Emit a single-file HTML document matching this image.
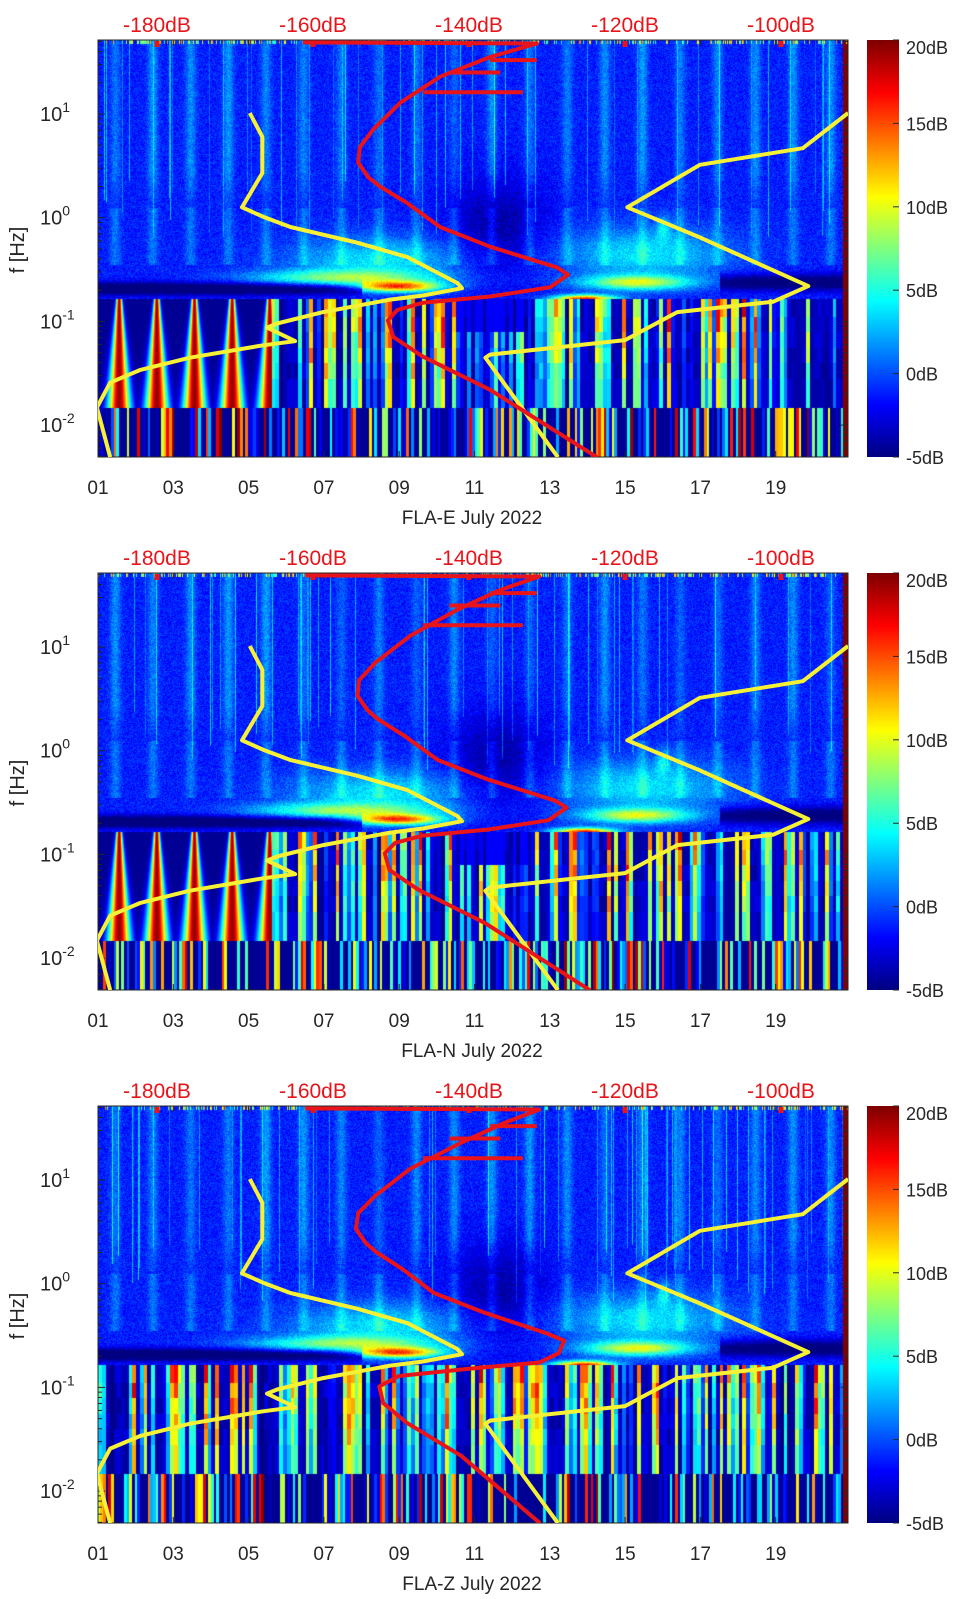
<!DOCTYPE html>
<html><head><meta charset="utf-8">
<style>
html,body{margin:0;padding:0;background:#fff;}
body{width:962px;height:1599px;position:relative;overflow:hidden;font-family:"Liberation Sans","DejaVu Sans",sans-serif;}
canvas{position:absolute;}
svg{position:absolute;left:0;top:0;}
</style></head>
<body>
<canvas id="spec0" width="750" height="417" style="left:98px;top:40px"></canvas>
<canvas id="spec1" width="750" height="417" style="left:98px;top:573px"></canvas>
<canvas id="spec2" width="750" height="417" style="left:98px;top:1106px"></canvas>
<canvas id="cb0" width="32" height="417" style="left:867px;top:40px"></canvas>
<canvas id="cb1" width="32" height="417" style="left:867px;top:573px"></canvas>
<canvas id="cb2" width="32" height="417" style="left:867px;top:1106px"></canvas>
<svg id="ov" width="962" height="1599" xmlns="http://www.w3.org/2000/svg"></svg>
<script>
// ---- data ----
const panelNames = ["FLA-E July 2022","FLA-N July 2022","FLA-Z July 2022"];
const dayTicks = [1,3,5,7,9,11,13,15,17,19];
const dayTickLabels = ["01","03","05","07","09","11","13","15","17","19"];
const dbTicks = [-180,-160,-140,-120,-100];
const freqTickExp = [1,0,-1,-2];
const cbTicks = [20,15,10,5,0,-5];
// low noise model (dB, log10 f)
const lnmDb = [-186.0,-187.7,-186.0,-182.2,-175.8,-166.4,-162.3,-165.9,-164.6,-158.7,-150.1,-145.9,-140.9,-141.5,-147.9,-154.4,-162.9,-166.4,-169.1,-166.5,-166.5,-168.1];
const lnmLogF = [-2.31,-1.83,-1.59,-1.47,-1.35,-1.23,-1.19,-1.06,-1.02,-0.91,-0.79,-0.75,-0.68,-0.63,-0.38,-0.24,-0.09,0.01,0.10,0.43,0.78,1.01];
// high noise model
const hnmDb = [-128.6,-137.9,-137.3,-120.0,-113.3,-101.0,-96.5,-110.4,-119.7,-110.4,-97.2,-91.4];
const hnmLogF = [-2.31,-1.35,-1.32,-1.18,-0.91,-0.81,-0.66,-0.19,0.10,0.51,0.67,1.01];
// median PSD (red) per panel
const medLogF = [-2.31,-1.66,-1.34,-1.15,-0.99,-0.89,-0.82,-0.76,-0.67,-0.55,-0.48,-0.28,-0.09,0.14,0.30,0.39,0.53,0.68,0.85,1.11,1.36,1.55,1.68,1.69];
const medDbE = [-123.6,-137.3,-145.9,-149.7,-150.4,-149.2,-145.9,-137.3,-129.6,-127.3,-128.7,-137.3,-143.7,-147.9,-151.4,-152.9,-154.2,-154.0,-152.3,-148.8,-143.7,-137.3,-131.3,-161.3];
const medDbN = [-124.5,-138.0,-146.5,-150.2,-150.8,-149.5,-146.0,-137.5,-129.8,-127.5,-129.0,-137.5,-144.0,-148.2,-151.6,-153.0,-154.3,-154.1,-152.0,-147.5,-141.5,-136.0,-131.0,-161.0];
const medDbZ = [-130.9,-141.0,-148.0,-151.0,-151.5,-149.0,-140.0,-131.0,-128.5,-127.8,-130.0,-138.0,-144.5,-148.5,-151.8,-153.2,-154.5,-154.2,-152.0,-147.5,-141.0,-135.5,-131.0,-161.0];
const medSets = [medDbE, medDbN, medDbZ];
// red spurs
const spurStartDb = [-137.3,-145.9,-142.5];
const spurEndDb = [-131.3,-133.1,-136.0];
const spurLogF = [1.52,1.21,1.40];

// ---- geometry ----
const tops = [40,573,1106];
const L = 98, R = 848, H = 417;
const xDay = d => L + (d-1)*37.65;
const xDb = db => 157 + (db+180)*7.8;
const yLf = (lf,top) => top + 74 + (1-lf)*103.7;
const NS = "http://www.w3.org/2000/svg";
const ov = document.getElementById('ov');
function mk(tag, attrs, parent){const e=document.createElementNS(NS,tag);for(const k in attrs)e.setAttribute(k,attrs[k]);(parent||ov).appendChild(e);return e;}

function clamp(x){return x<0?0:x>1?1:x;}
function jet(t){t=clamp(t);return [clamp(1.5-Math.abs(4*t-3))*255,clamp(1.5-Math.abs(4*t-2))*255,clamp(1.5-Math.abs(4*t-1))*255];}
function hsh(a,b){let h=Math.sin(a*127.1+b*311.7)*43758.5453;return h-Math.floor(h);}
function g2(d,lf,cd,cl,sd,sl){const a=(d-cd)/sd,b=(lf-cl)/sl;return Math.exp(-(a*a+b*b));}

// ---- spectrogram texture ----
function drawSpec(p){
  const c=document.getElementById('spec'+p), ctx=c.getContext('2d');
  const img=ctx.createImageData(750,H), D=img.data, s=p*17.3;
  for(let x=0;x<750;x++){
    const day=1+x/37.65, ph=day-Math.floor(day);
    const colH=hsh(x+s,3.1), colB=Math.floor(day/0.1);
    const lineTop=-0.2+0.6*hsh(x,s+2);
    for(let y=0;y<H;y++){
      const lf=1.714-y/103.7;
      let v;
      if(lf>-0.78){
        v=-1.2+2.4*(hsh(x+s,y)-0.5);
        if(colH>0.94 && lf>lineTop) v+=1.5+3*hsh(x,1+s);
        const blob=Math.exp(-Math.pow((ph-0.45)/0.14,2));
        if(lf>0.1) v+=3.2*blob*(0.5+0.5*hsh(Math.floor(day),s))*Math.min(1,(lf-0.1)*2+0.3);
        if(lf>-0.45 && lf<=0.1) v+=2.2*blob;
        v+=5*g2(day,lf,8.5,-0.4,2.3,0.22);
        v+=5*g2(day,lf,15.5,-0.35,2.2,0.25);
        v+=8*g2(day,lf,7.5,-0.58,2.4,0.08);
        v+=14*g2(day,lf,9,-0.66,1.1,0.05);
        v+=18*g2(day,lf,13.9,-0.78,0.8,0.04);
        v+=10*g2(day,lf,15.3,-0.62,1.4,0.07);
        v+=4*g2(day,lf,16,-0.1,0.2,0.12);
        if(day<8) v-=6*Math.exp(-Math.pow((lf+0.68)/0.06,2));
        if(day>17.5) v-=5*Math.exp(-Math.pow((lf+0.62)/0.08,2));
        v-=3*g2(day,lf,11.6,-0.1,1.3,0.5);
      } else if(lf>-1.83){
        const rowB=lf>-0.95?0:lf>-1.1?1:lf>-1.25?2:lf>-1.4?3:lf>-1.55?4:5;
        if(day<5.6 && p<2){
          const q=day-Math.floor(day);
          const w=0.3*(1-(lf+1.83)/1.1*0.8);
          const a=Math.exp(-Math.pow((q-0.55)/Math.max(w,0.03),2));
          v=-4.5+24*a;
        } else {
          const cv=hsh(colB+s,7.7);
          const rf=0.75+0.25*hsh(colB+s,rowB+2);
          v=cv<0.32?-4.5+2*hsh(colB,rowB):-5+25*Math.pow((cv-0.32)/0.68,1.1)*rf*(1-rowB*0.05);
          if(day>10.5 && day<12.4 && p<2 && rowB<2) v=Math.min(v,-2);
        }
      } else {
        const hv=hsh(Math.floor(day/0.07)+s,9);
        v=hv<0.45?-4.5:-5+25*Math.pow((hv-0.45)/0.55,1.3);
      }
      if(x>744) v=20;
      if(y<4 && hsh(x,s+5)>0.7) v=4+10*hsh(x,6);
      const col=jet((v+5)/25), i=(y*750+x)*4;
      D[i]=col[0];D[i+1]=col[1];D[i+2]=col[2];D[i+3]=255;
    }
  }
  ctx.putImageData(img,0,0);
  const cb=document.getElementById('cb'+p).getContext('2d');
  for(let y=0;y<H;y++){const col=jet(1-y/H);cb.fillStyle=`rgb(${col[0]|0},${col[1]|0},${col[2]|0})`;cb.fillRect(0,y,32,1);}
}
for(let p=0;p<3;p++) drawSpec(p);

// ---- overlay ----
for(let p=0;p<3;p++){
  const top=tops[p], bot=top+H;
  const g=mk('g',{});
  
  
  const cid='clip'+p;
  const cp=mk('clipPath',{id:cid},g); mk('rect',{x:L,y:top,width:R-L,height:H},cp);
  const box=mk('rect',{x:L,y:top,width:R-L,height:H,fill:'none',stroke:'#262626','stroke-width':1},g);
  
  
  dayTicks.forEach((d,i)=>{
    const x=xDay(d);
    mk('line',{x1:x,y1:bot,x2:x,y2:bot-6,stroke:'#262626'},g);
    mk('line',{x1:x,y1:top,x2:x,y2:top+6,stroke:'#262626'},g);
    const t=mk('text',{x:x,y:bot+37,'text-anchor':'middle','font-size':19,fill:'#262626'},g);
    t.textContent=dayTickLabels[i];
    
    
  });
  const xt=mk('text',{x:472,y:bot+67,'text-anchor':'middle','font-size':19,fill:'#262626'},g);
  xt.textContent=panelNames[p];
  
  
  for(let e=-3;e<=1;e++){
    for(let m=1;m<10;m++){
      const lf=e+Math.log10(m);
      const y=yLf(lf,top);
      if(y<top||y>bot) continue;
      const len=m===1?7:4;
      mk('line',{x1:L,y1:y,x2:L+len,y2:y,stroke:'#262626'},g);
      mk('line',{x1:R,y1:y,x2:R-len,y2:y,stroke:'#262626'},g);
    }
  }
  freqTickExp.forEach(e=>{
    const y=yLf(e,top);
    const t=mk('text',{x:40,y:y+7,'font-size':20,fill:'#262626'},g);
    t.textContent='10';
    const sp=mk('tspan',{dy:-9,'font-size':14},t); sp.textContent=String(e);
    
    
  });
  const yt=mk('text',{x:0,y:0,'text-anchor':'middle','font-size':20,fill:'#262626',transform:`translate(24,${top+210}) rotate(-90)`},g);
  yt.textContent='f [Hz]';
  
  
  dbTicks.forEach(db=>{
    const x=xDb(db);
    mk('rect',{x:x-2.5,y:top+1,width:5,height:6,fill:'#e8141a'},g);
    const t=mk('text',{x:x,y:top-8,'text-anchor':'middle','font-size':21,fill:'#e8141a'},g);
    t.textContent=db+'dB';
    
    
  });
  const cg=mk('g',{'clip-path':`url(#${cid})`},g);
  const pts=(dbs,lfs)=>dbs.map((d,i)=>xDb(d).toFixed(1)+','+yLf(lfs[i],top).toFixed(1)).join(' ');
  const lnm=mk('polyline',{points:pts(lnmDb,lnmLogF),fill:'none',stroke:'#f7f135','stroke-width':4,'stroke-linejoin':'round'},cg);
  
  
  const hnm=mk('polyline',{points:pts(hnmDb,hnmLogF),fill:'none',stroke:'#f7f135','stroke-width':4,'stroke-linejoin':'round'},cg);
  
  
  const med=mk('polyline',{points:pts(medSets[p],medLogF),fill:'none',stroke:'#e8141a','stroke-width':4,'stroke-linejoin':'round'},cg);
  
  
  spurStartDb.forEach((d,i)=>{
    const sp=mk('line',{x1:xDb(d),x2:xDb(spurEndDb[i]),y1:yLf(spurLogF[i],top),y2:yLf(spurLogF[i],top),stroke:'#e8141a','stroke-width':4},cg);
    
    
  });
  cbTicks.forEach(v=>{
    const y=top+(20-v)/25*H;
    mk('line',{x1:893,y1:y,x2:899,y2:y,stroke:'#262626'},g);
    const t=mk('text',{x:906,y:Math.min(Math.max(y+7,top+14),bot+14),'font-size':18,fill:'#262626'},g);
    t.textContent=v+'dB';
    
    
  });
}
</script>
</body></html>
